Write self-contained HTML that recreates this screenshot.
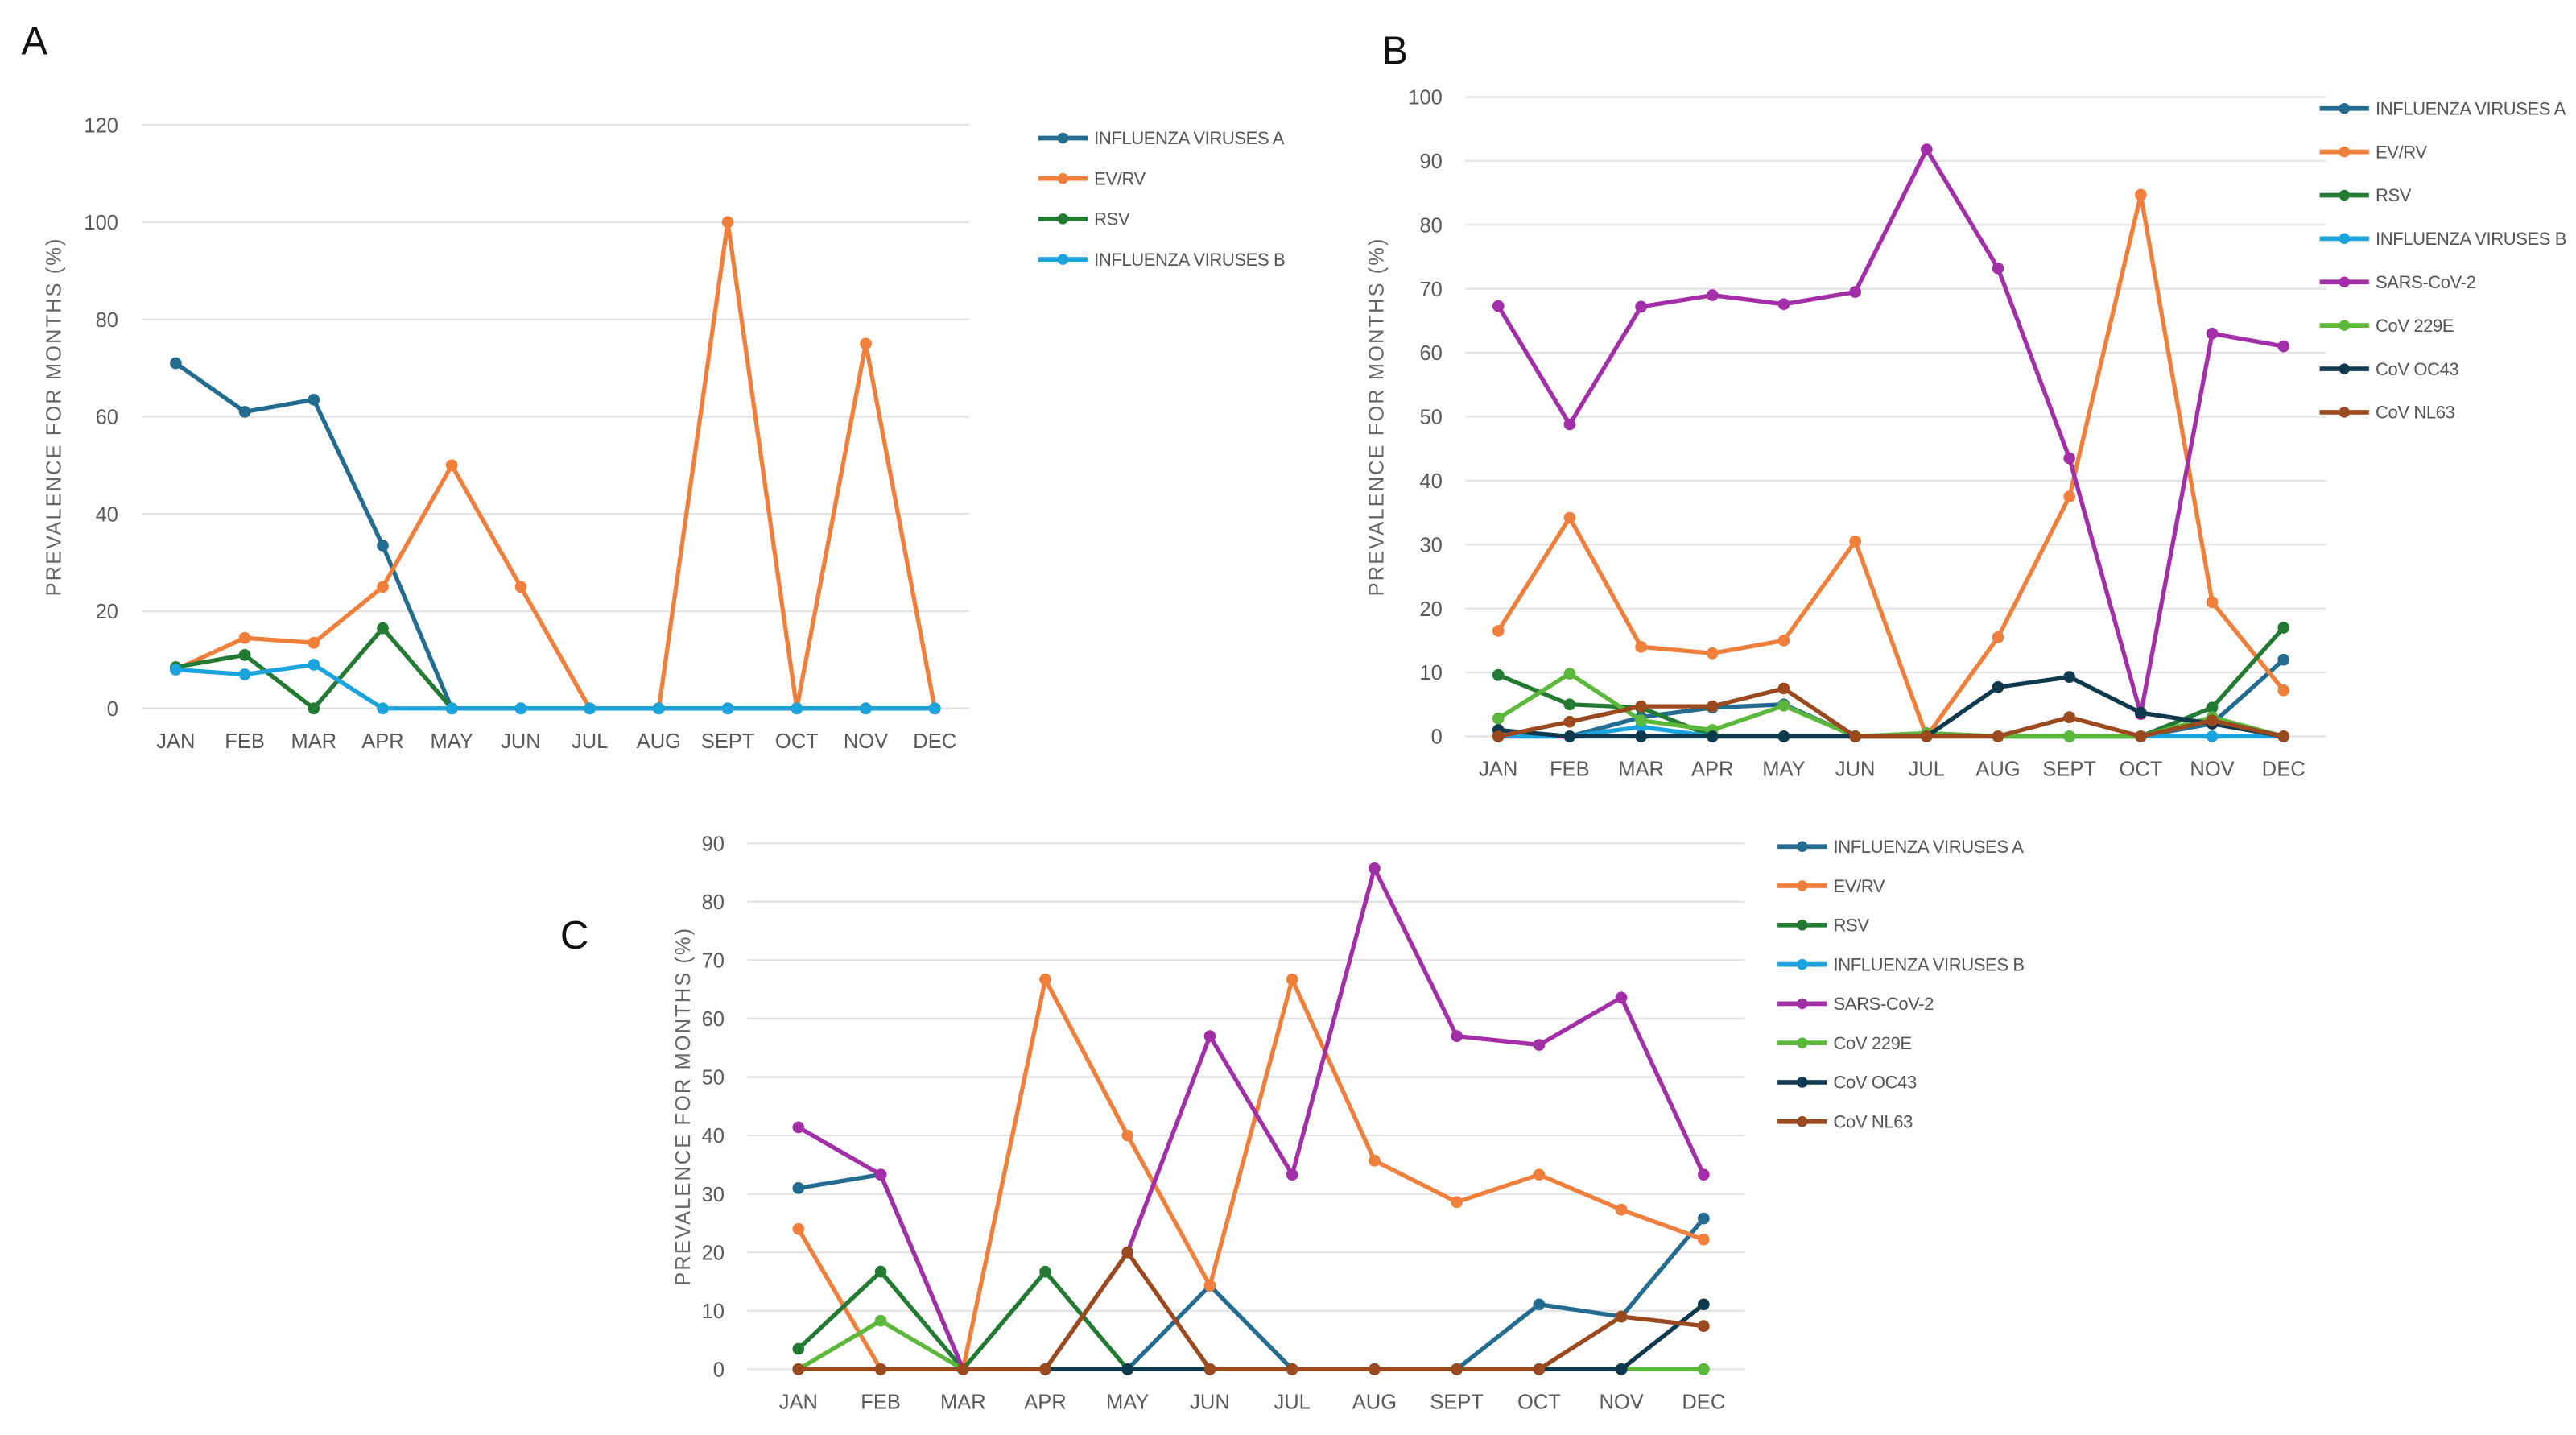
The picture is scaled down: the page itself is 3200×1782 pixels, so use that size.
<!DOCTYPE html>
<html><head><meta charset="utf-8"><style>
html,body{margin:0;padding:0;background:#fff;}
svg{display:block;}
text{font-family:"Liberation Sans",sans-serif;}
</style></head><body>
<svg id="fig" width="3200" height="1782" viewBox="0 0 1568 873" preserveAspectRatio="none" xmlns="http://www.w3.org/2000/svg"></svg>
<script>
const months = ["JAN","FEB","MAR","APR","MAY","JUN","JUL","AUG","SEPT","OCT","NOV","DEC"];
const seriesNames = ["INFLUENZA VIRUSES A","EV/RV","RSV","INFLUENZA VIRUSES B","SARS-CoV-2","CoV 229E","CoV OC43","CoV NL63"];
const seriesColors = ["#236c8f","#f07f3c","#237a33","#1aa3dc","#a22fa8","#5cb83a","#0f3a4e","#9a4a1e"];

const aTicks = [0,20,40,60,80,100,120];
const aInfA = [71,61,63.5,33.5,0,0,0,0,0,0,0,0];
const aEV   = [8,14.5,13.5,25,50,25,0,0,100,0,75,0];
const aRSV  = [8.5,11,0,16.5,0,0,0,0,0,0,0,0];
const aInfB = [8,7,9,0,0,0,0,0,0,0,0,0];

const bTicks = [0,10,20,30,40,50,60,70,80,90,100];
const bInfA = [0,0,3,4.5,5,0,0,0,0,0,2,12];
const bEV   = [16.5,34.2,14,13,15,30.5,0,15.5,37.5,84.7,21,7.2];
const bRSV  = [9.6,5,4.5,0,0,0,0.5,0,0,0,4.5,17];
const bInfB = [0,0,1.5,0,0,0,0,0,0,0,0,0];
const bSARS = [67.3,48.8,67.2,69,67.6,69.5,91.8,73.2,43.5,3.5,63,61];
const b229E = [2.8,9.8,2.5,1,4.8,0,0.5,0,0,0,3,0];
const bOC43 = [1,0,0,0,0,0,0,7.7,9.3,3.7,2,0];
const bNL63 = [0,2.3,4.7,4.7,7.5,0,0,0,3,0,2.5,0];

const cTicks = [0,10,20,30,40,50,60,70,80,90];
const cInfA = [31,33.3,0,0,0,14.3,0,0,0,11.1,9,25.8];
const cEV   = [24,0,0,66.7,40,14.3,66.7,35.7,28.6,33.3,27.3,22.2];
const cRSV  = [3.5,16.7,0,16.7,0,0,0,0,0,0,0,0];
const cInfB = [0,0,0,0,0,0,0,0,0,0,0,0];
const cSARS = [41.4,33.3,0,0,20,57,33.3,85.7,57,55.5,63.6,33.3];
const c229E = [0,8.3,0,0,0,0,0,0,0,0,0,0];
const cOC43 = [0,0,0,0,0,0,0,0,0,0,0,11.1];
const cNL63 = [0,0,0,0,20,0,0,0,0,0,9,7.4];

const NS="http://www.w3.org/2000/svg";
const svg=document.getElementById('fig');
function mk(tag,attrs,parent){const e=document.createElementNS(NS,tag);for(const k in attrs)e.setAttribute(k,attrs[k]);(parent||svg).appendChild(e);return e;}

function panel(cfg){
  const g=mk('g',{});
  
  
  const yMax=cfg.ticks[cfg.ticks.length-1];
  const y=v=>cfg.y0-(v/yMax)*(cfg.y0-cfg.yTop);
  const x=i=>cfg.xJan+i*(cfg.xDec-cfg.xJan)/11;
  const lbl=mk('text',{x:cfg.lx,y:cfg.ly,'font-size':24,fill:'#111'},g);lbl.textContent=cfg.id.toUpperCase();
  
  
  cfg.ticks.forEach(t=>{
    const gl=mk('line',{x1:cfg.gx0,x2:cfg.gx1,y1:y(t),y2:y(t),stroke:'#e4e4e4','stroke-width':1.2},g);
    
    
    const tt=mk('text',{x:cfg.gx0-14,y:y(t)+4.5,'font-size':12.5,fill:'#595959','text-anchor':'end'},g);tt.textContent=t;
    
    
  });
  months.forEach((m,i)=>{
    const t=mk('text',{x:x(i),y:cfg.y0+24,'font-size':12.5,fill:'#595959','text-anchor':'middle'},g);t.textContent=m;
    
    
  });
  const cy=(cfg.y0+cfg.yTop)/2;
  const at=mk('text',{x:cfg.ax,y:cy,'font-size':12.5,fill:'#666','text-anchor':'middle','letter-spacing':1,transform:`rotate(-90 ${cfg.ax} ${cy})`},g);
  at.textContent='PREVALENCE FOR MONTHS (%)';
  
  
  cfg.series.forEach((vals,si)=>{
    const col=seriesColors[si];
    const pts=vals.map((v,i)=>x(i)+','+y(v)).join(' ');
    const pl=mk('polyline',{points:pts,fill:'none',stroke:col,'stroke-width':2.6,'stroke-linejoin':'round'},g);
    
    
    vals.forEach((v,i)=>{
      const c=mk('circle',{cx:x(i),cy:y(v),r:3.6,fill:col},g);
      
      
    });
    const ly=cfg.legY+si*cfg.legStep;
    const lg=mk('g',{},g);
    
    
    mk('line',{x1:cfg.legX,x2:cfg.legX+30,y1:ly,y2:ly,stroke:col,'stroke-width':2.8},lg);
    mk('circle',{cx:cfg.legX+15,cy:ly,r:3.3,fill:col},lg);
    const lt=mk('text',{x:cfg.legX+34,y:ly+3.8,'font-size':10.8,fill:'#555','letter-spacing':-0.2},lg);lt.textContent=seriesNames[si];
  });
}
panel({id:'a',ticks:aTicks,yTop:76,y0:431,xJan:107,xDec:569,gx0:86,gx1:590,ax:37,lx:13,ly:33,legX:632,legY:84,legStep:24.6,series:[aInfA,aEV,aRSV,aInfB]});
panel({id:'b',ticks:bTicks,yTop:59,y0:448,xJan:912,xDec:1390,gx0:892,gx1:1416,ax:842,lx:841,ly:39,legX:1412,legY:66,legStep:26.4,series:[bInfA,bEV,bRSV,bInfB,bSARS,b229E,bOC43,bNL63]});
panel({id:'c',ticks:cTicks,yTop:513,y0:833,xJan:486,xDec:1037,gx0:455,gx1:1062,ax:420,lx:341,ly:577,legX:1082,legY:515,legStep:23.9,series:[cInfA,cEV,cRSV,cInfB,cSARS,c229E,cOC43,cNL63]});
</script>
</body></html>
